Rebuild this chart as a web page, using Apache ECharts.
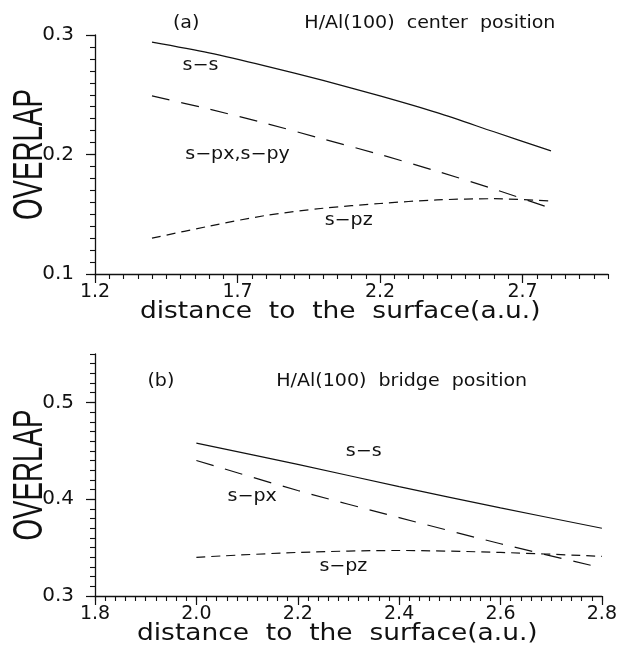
<!DOCTYPE html>
<html>
<head>
<meta charset="utf-8">
<script src="https://cdn.jsdelivr.net/npm/echarts@6/dist/echarts.min.js"></script>
<style>
  html, body { margin: 0; padding: 0; background: #fff; }
  #chart { width: 620px; height: 645px; }
</style>
</head>
<body>
<div id="chart"></div>
<script>
// Panel (a): H/Al(100) center position
const distA = [1.4, 1.6, 1.8, 2.0, 2.2, 2.4, 2.6, 2.8];
const ssA = [0.294, 0.285, 0.274, 0.262, 0.249, 0.235, 0.219, 0.203];
const spxA = [0.249, 0.238, 0.226, 0.213, 0.200, 0.186, 0.171, 0.155];
const spzA = [0.130, 0.140, 0.149, 0.155, 0.159, 0.162, 0.163, 0.161];
const xLabelsA = [1.2, 1.7, 2.2, 2.7];
const yLabelsA = [0.1, 0.2, 0.3];

// Panel (b): H/Al(100) bridge position
const distB = [2.0, 2.2, 2.4, 2.6, 2.8];
const ssB = [0.458, 0.436, 0.413, 0.391, 0.370];
const spxB = [0.440, 0.409, 0.381, 0.354, 0.329];
const spzB = [0.340, 0.345, 0.347, 0.345, 0.341];
const xLabelsB = [1.8, 2.0, 2.2, 2.4, 2.6, 2.8];
const yLabelsB = [0.3, 0.4, 0.5];

// text notes, anchored in data coordinates
const notesA = [
  ['(a)', 1.52, 0.3095],
  ['H/Al(100)  center  position', 2.375, 0.3095],
  ['s\u2212s', 1.57, 0.274],
  ['s\u2212px,s\u2212py', 1.70, 0.200],
  ['s\u2212pz', 2.09, 0.145]
];
const notesB = [
  ['(b)', 1.93, 0.521],
  ['H/Al(100)  bridge  position', 2.405, 0.521],
  ['s\u2212s', 2.33, 0.449],
  ['s\u2212px', 2.11, 0.403],
  ['s\u2212pz', 2.29, 0.330]
];
const xTitle = 'distance  to  the  surface(a.u.)';
const yTitle = 'OVERLAP';

const FONT = '"DejaVu Sans", sans-serif';
const INK = '#111';

function steps(min, max, step) {
  const out = [];
  const n = Math.round((max - min) / step);
  for (let i = 0; i <= n; i++) out.push(+(min + i * step).toFixed(4));
  return out;
}

// main axis: line, minor ticks, labels
function xMain(grid, min, max, minorStep, labels) {
  return {
    type: 'value', gridIndex: grid, min: min, max: max, position: 'bottom',
    axisLine: { show: true, onZero: false, lineStyle: { color: INK, width: 1.3 } },
    axisTick: { show: true, inside: false, length: 5, customValues: steps(min, max, minorStep), lineStyle: { color: INK, width: 1.1 } },
    axisLabel: { customValues: labels, margin: 9, fontFamily: FONT, fontSize: 19, color: INK, formatter: v => v.toFixed(1) },
    splitLine: { show: false }
  };
}
// overlay axis: only the longer major ticks
function xMajor(grid, min, max, labels) {
  return {
    type: 'value', gridIndex: grid, min: min, max: max, position: 'bottom',
    axisLine: { show: false, onZero: false },
    axisTick: { show: true, inside: false, length: 9, customValues: labels, lineStyle: { color: INK, width: 1.2 } },
    axisLabel: { show: false }, splitLine: { show: false }
  };
}
function yMain(grid, min, max, minorStep, labels) {
  return {
    type: 'value', gridIndex: grid, min: min, max: max, position: 'left',
    axisLine: { show: true, onZero: false, lineStyle: { color: INK, width: 1.3 } },
    axisTick: { show: true, inside: false, length: 5, customValues: steps(min, max, minorStep), lineStyle: { color: INK, width: 1.1 } },
    axisLabel: { customValues: labels, margin: 21, fontFamily: FONT, fontSize: 20, color: INK, formatter: v => v.toFixed(1) },
    splitLine: { show: false }
  };
}
function yMajor(grid, min, max, labels) {
  return {
    type: 'value', gridIndex: grid, min: min, max: max, position: 'left',
    axisLine: { show: false, onZero: false },
    axisTick: { show: true, inside: false, length: 9, customValues: labels, lineStyle: { color: INK, width: 1.2 } },
    axisLabel: { show: false }, splitLine: { show: false }
  };
}

function line(name, xs, ys, axisIdx, dash) {
  return {
    name: name, type: 'line', xAxisIndex: axisIdx, yAxisIndex: axisIdx,
    data: xs.map((x, i) => [x, ys[i]]),
    smooth: 0.3, symbol: 'none', silent: true,
    lineStyle: { color: INK, width: 1.2, type: dash }
  };
}

const chart = echarts.init(document.getElementById('chart'));
chart.setOption({
  backgroundColor: '#fff',
  animation: false,
  grid: [
    { left: 95, right: 12, top: 35, height: 239 },
    { left: 95, right: 12, top: 354, height: 242 }
  ],
  xAxis: [
    xMain(0, 1.2, 3.0, 0.05, xLabelsA),
    xMain(1, 1.8, 2.8, 0.02, xLabelsB),
    xMajor(0, 1.2, 3.0, xLabelsA),
    xMajor(1, 1.8, 2.8, xLabelsB)
  ],
  yAxis: [
    yMain(0, 0.1, 0.3, 0.01, yLabelsA),
    yMain(1, 0.3, 0.55, 0.01, yLabelsB),
    yMajor(0, 0.1, 0.3, yLabelsA),
    yMajor(1, 0.3, 0.55, yLabelsB)
  ],
  series: [
    line('s-s (a)', distA, ssA, 0, 'solid'),
    line('s-px,s-py (a)', distA, spxA, 0, [18, 12]),
    line('s-pz (a)', distA, spzA, 0, [9, 6]),
    line('s-s (b)', distB, ssB, 1, 'solid'),
    line('s-px (b)', distB, spxB, 1, [18, 12]),
    line('s-pz (b)', distB, spzB, 1, [9, 6])
  ]
});

// text placed through the axes' own scales
function text(str, p, size, extra) {
  return Object.assign({
    type: 'text', x: p[0], y: p[1], silent: true,
    style: { text: str, fontFamily: FONT, fontSize: size, fill: INK, align: 'center', verticalAlign: 'middle' }
  }, extra || {});
}
function panelGraphics(notes, idx, xMin, xMax, yMin, yMax) {
  const px = v => chart.convertToPixel({ xAxisIndex: idx, yAxisIndex: idx }, v);
  const out = notes.map(n => text(n[0], px([n[1], n[2]]), 17, { scaleX: 1.12 }));
  const lo = px([xMin, yMin]);
  const hi = px([xMax, yMax]);
  // axis titles
  out.push(text(xTitle, [lo[0] + (hi[0] - lo[0]) * 0.478, lo[1] + 38], 23, { scaleX: 1.15 }));
  const ov = text(yTitle, [lo[0] - 65, (lo[1] + hi[1]) / 2], 42, { rotation: Math.PI / 2, scaleX: 0.66 });
  ov.style.fontFamily = '"Liberation Sans", sans-serif';
  out.push(ov);
  return out;
}
chart.setOption({
  graphic: panelGraphics(notesA, 0, 1.2, 3.0, 0.1, 0.3)
    .concat(panelGraphics(notesB, 1, 1.8, 2.8, 0.3, 0.55))
});
</script>
</body>
</html>
